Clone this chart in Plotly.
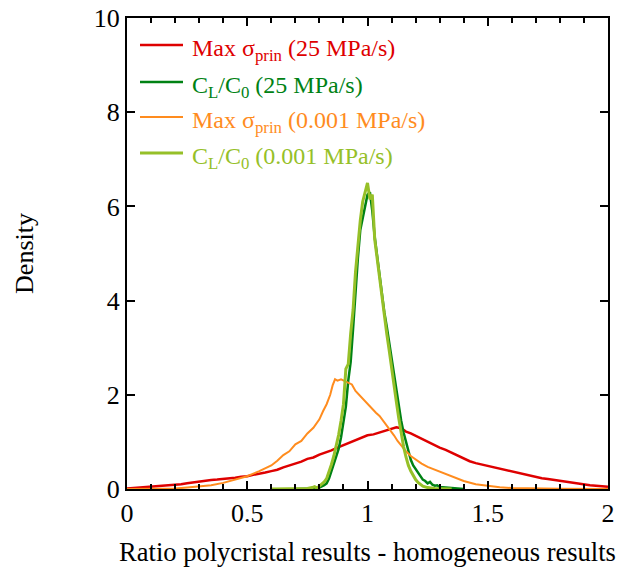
import plotly.graph_objects as go

# Max sigma_prin (25 MPa/s)
red_x = [0.000,0.025,0.050,0.075,0.100,0.125,0.150,0.175,0.200,0.225,0.250,0.275,0.300,0.325,0.350,0.375,0.400,0.425,0.450,0.475,0.500,0.525,0.550,0.575,0.600,0.625,0.650,0.675,0.700,0.725,0.750,0.775,0.800,0.825,0.850,0.875,0.900,0.925,0.950,0.975,1.000,1.025,1.050,1.075,1.100,1.120,1.140,1.160,1.180,1.200,1.225,1.250,1.275,1.300,1.325,1.350,1.375,1.400,1.425,1.450,1.475,1.500,1.525,1.550,1.575,1.600,1.625,1.650,1.675,1.700,1.725,1.750,1.775,1.800,1.825,1.850,1.875,1.900,1.925,1.950,1.975,2.000]
red_y = [0.01,0.02,0.02,0.03,0.04,0.05,0.06,0.08,0.09,0.10,0.12,0.14,0.16,0.18,0.19,0.20,0.21,0.23,0.24,0.26,0.27,0.30,0.32,0.35,0.38,0.41,0.46,0.50,0.55,0.58,0.64,0.67,0.73,0.77,0.82,0.88,0.93,0.98,1.04,1.08,1.14,1.16,1.20,1.23,1.27,1.31,1.29,1.22,1.18,1.13,1.06,1.00,0.95,0.88,0.83,0.77,0.70,0.65,0.59,0.55,0.52,0.49,0.46,0.43,0.40,0.37,0.34,0.31,0.29,0.26,0.23,0.21,0.19,0.17,0.15,0.13,0.11,0.09,0.08,0.07,0.06,0.05]

# Max sigma_prin (0.001 MPa/s)
orange_x = [0.00,0.10,0.20,0.25,0.30,0.35,0.40,0.45,0.50,0.55,0.600,0.625,0.650,0.675,0.700,0.725,0.750,0.775,0.800,0.815,0.830,0.845,0.855,0.865,0.875,0.890,0.905,0.920,0.935,0.950,0.965,0.980,1.000,1.020,1.035,1.050,1.065,1.080,1.095,1.110,1.125,1.140,1.160,1.180,1.200,1.225,1.250,1.275,1.30,1.35,1.40,1.45,1.50,1.55,1.60,1.70,1.80,2.00]
orange_y = [0.00,0.00,0.01,0.03,0.05,0.08,0.13,0.20,0.27,0.38,0.50,0.60,0.72,0.80,0.95,1.02,1.18,1.30,1.48,1.65,1.80,2.00,2.20,2.33,2.30,2.33,2.29,2.25,2.22,2.08,2.00,1.90,1.80,1.70,1.62,1.55,1.45,1.36,1.26,1.14,1.02,0.92,0.80,0.70,0.62,0.54,0.47,0.42,0.37,0.26,0.17,0.10,0.06,0.035,0.02,0.01,0.005,0.00]

# C_L/C_0 (25 MPa/s)
dgreen_x = [0.70,0.75,0.78,0.80,0.81,0.82,0.83,0.84,0.85,0.86,0.87,0.88,0.89,0.90,0.91,0.92,0.93,0.94,0.95,0.96,0.97,0.98,0.99,1.00,1.01,1.02,1.03,1.04,1.05,1.06,1.07,1.08,1.09,1.10,1.11,1.12,1.13,1.14,1.15,1.16,1.17,1.18,1.19,1.20,1.21,1.22,1.23,1.24,1.25,1.26,1.27,1.28,1.29,1.30,1.32,1.35,1.40]
dgreen_y = [0.00,0.00,0.01,0.03,0.05,0.08,0.12,0.22,0.38,0.55,0.68,0.85,1.10,1.40,1.75,2.30,2.70,3.40,4.20,4.90,5.50,5.75,6.05,6.25,6.30,5.90,5.35,4.95,4.55,4.10,3.75,3.45,3.10,2.80,2.45,2.05,1.75,1.45,1.20,1.00,0.80,0.62,0.50,0.42,0.35,0.28,0.20,0.17,0.12,0.15,0.09,0.07,0.08,0.04,0.03,0.01,0.00]

# C_L/C_0 (0.001 MPa/s)
lgreen_x = [0.60,0.70,0.75,0.77,0.78,0.79,0.80,0.81,0.82,0.83,0.84,0.85,0.86,0.87,0.88,0.89,0.90,0.91,0.92,0.93,0.94,0.95,0.96,0.97,0.98,0.99,1.00,1.01,1.02,1.03,1.04,1.05,1.06,1.07,1.08,1.09,1.10,1.11,1.12,1.13,1.14,1.15,1.16,1.17,1.18,1.19,1.20,1.21,1.22,1.23,1.25,1.28,1.35]
lgreen_y = [0.00,0.00,0.01,0.03,0.05,0.02,0.06,0.10,0.15,0.22,0.35,0.52,0.70,0.90,1.15,1.45,1.80,2.55,2.65,3.30,3.80,4.60,5.20,5.70,6.10,6.30,6.50,6.15,6.25,5.30,4.90,4.45,4.00,3.60,3.30,2.95,2.55,2.25,1.85,1.50,1.15,0.90,0.68,0.50,0.38,0.28,0.20,0.14,0.09,0.06,0.03,0.01,0.00]

x_ticks = [0, 0.5, 1, 1.5, 2]
x_tick_labels = ["0", "0.5", "1", "1.5", "2"]
y_ticks = [0, 2, 4, 6, 8, 10]

series_names = ["Max σ<sub>prin</sub> (25 MPa/s)",
                "C<sub>L</sub>/C<sub>0</sub> (25 MPa/s)",
                "Max σ<sub>prin</sub> (0.001 MPa/s)",
                "C<sub>L</sub>/C<sub>0</sub> (0.001 MPa/s)"]

RED = "rgb(222,0,0)"
DGREEN = "rgb(0,130,20)"
ORANGE = "rgb(255,140,30)"
LGREEN = "rgb(150,192,40)"
colors = [RED, DGREEN, ORANGE, LGREEN]
widths = [2.5, 2.5, 2, 3]
xs = [red_x, dgreen_x, orange_x, lgreen_x]
ys = [red_y, dgreen_y, orange_y, lgreen_y]

font = "Liberation Serif, Times New Roman, serif"

fig = go.Figure()
for x, y, c, w, n in zip(xs, ys, colors, widths, series_names):
    fig.add_trace(go.Scatter(x=x, y=y, mode="lines", line=dict(color=c, width=w), name=n, showlegend=False))

# manual legend (paper coordinates)
H = 471.0
leg_line_px = [45, 82, 117, 153]
for i, (n, c, w) in enumerate(zip(series_names, colors, widths)):
    yp = (489 - leg_line_px[i]) / H
    fig.add_shape(type="line", xref="paper", yref="paper", x0=13/481, x1=56/481, y0=yp, y1=yp,
                  line=dict(color=c, width=w))
    fig.add_annotation(xref="paper", yref="paper", x=63/481, y=(489 - leg_line_px[i] - 5) / H,
                       xanchor="left", yanchor="middle", showarrow=False, text=n,
                       font=dict(color=c, size=24, family=font))

fig.update_layout(
    width=619, height=573,
    margin=dict(l=127, r=11, t=18, b=84),
    paper_bgcolor="white", plot_bgcolor="white",
    font=dict(family=font, size=24, color="black"),
    showlegend=False,
    xaxis=dict(range=[0, 2], tickvals=x_ticks, ticktext=x_tick_labels, ticks="inside", ticklen=8,
               tickwidth=2, tickcolor="black", showline=True, linewidth=2, linecolor="black",
               mirror="ticks", showgrid=False, zeroline=False, automargin=False,
               tickfont=dict(size=26, family=font),
               minor=dict(dtick=0.1, ticks="inside", ticklen=5, tickwidth=2, tickcolor="black"),
               title=dict(text="Ratio polycristal results - homogeneous results", font=dict(size=26.5, family=font), standoff=15)),
    yaxis=dict(range=[0, 10], tickvals=y_ticks, ticks="inside", ticklen=8, tickwidth=2, tickcolor="black",
               showline=True, linewidth=2, linecolor="black", mirror="ticks", showgrid=False, zeroline=False,
               automargin=False,
               tickfont=dict(size=26, family=font),
               title=dict(text="Density", font=dict(size=26, family=font), standoff=53)),
)

fig.write_html("out.html")
